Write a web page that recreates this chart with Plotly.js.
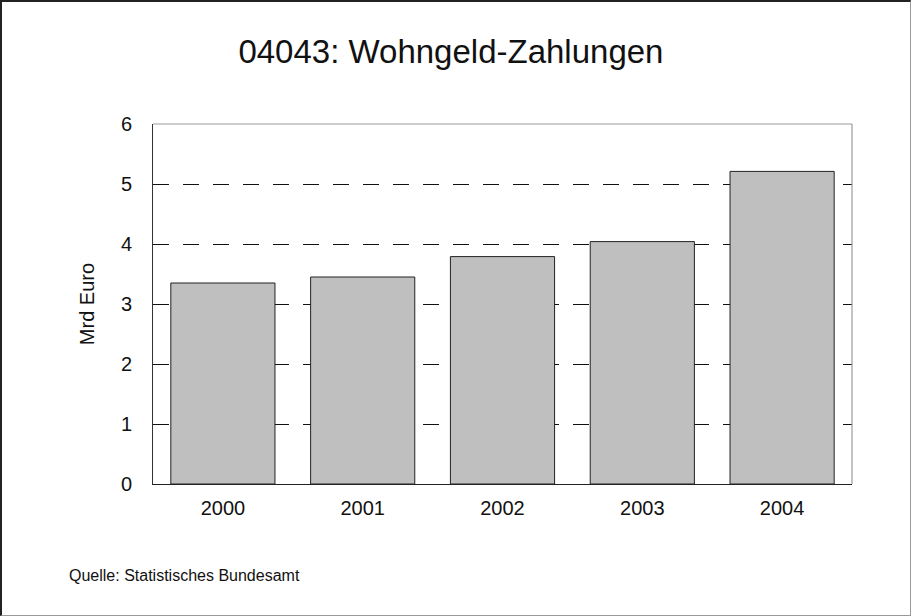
<!DOCTYPE html>
<html><head><meta charset="utf-8">
<script src="https://cdn.plot.ly/plotly-3.0.1.min.js"></script>
<style>
html,body{margin:0;padding:0;background:#fff;}
#frame{position:relative;width:911px;height:616px;box-sizing:border-box;border-left:2px solid #222;border-top:2px solid #222;border-right:1px solid #999;border-bottom:1px solid #999;overflow:hidden;}
#chart{position:absolute;left:-2px;top:-2px;width:911px;height:616px;}
</style></head>
<body><div id="frame"><div id="chart"></div></div>
<script>
const years = ['2000','2001','2002','2003','2004'];
const values = [3.35, 3.45, 3.79, 4.04, 5.21];
const yTicks = [0,1,2,3,4,5,6];
const titleText = '04043: Wohngeld-Zahlungen';
const yTitle = 'Mrd Euro';
const sourceText = 'Quelle: Statistisches Bundesamt';

const font = 'Liberation Sans, Arial, sans-serif';
Plotly.newPlot('chart', [{
  type:'bar', x: years, y: values,
  marker:{color:'#bfbfbf', line:{color:'#222', width:1}},
  hoverinfo:'none'
}], {
  width:911, height:616,
  margin:{l:153, r:59, t:124, b:132},
  paper_bgcolor:'rgba(0,0,0,0)', plot_bgcolor:'#fff',
  bargap:0.255,
  showlegend:false,
  title:{text:titleText, font:{family:font, size:33, color:'#111'}, x:0.495, xanchor:'center', y:0.916, yanchor:'middle'},
  xaxis:{type:'category', showgrid:false, showline:true, linecolor:'#222', linewidth:1,
    ticks:'', tickfont:{family:font, size:20, color:'#111'}, ticklabelstandoff:6, zeroline:false, fixedrange:true},
  yaxis:{range:[0,6], tickvals:yTicks, showgrid:true, gridcolor:'#111', gridwidth:1, griddash:'16px,14px',
    showline:true, linecolor:'#333', linewidth:1, ticks:'', zeroline:false,
    tickfont:{family:font, size:20, color:'#111'}, ticklabelstandoff:16,
    title:{text:yTitle, font:{family:font, size:20, color:'#111'}, standoff:20}, fixedrange:true},
  shapes:[
    {type:'line', xref:'paper', yref:'paper', x0:1, x1:1, y0:0, y1:1, line:{color:'#888', width:1}},
    {type:'line', xref:'paper', yref:'paper', x0:0, x1:1, y0:1, y1:1, line:{color:'#999', width:1}, layer:'below'}
  ],
  annotations:[
    {text:sourceText, xref:'paper', yref:'paper', x:-0.123, y:-0.253, xanchor:'left', yanchor:'middle', showarrow:false, font:{family:font, size:16, color:'#111'}}
  ]
}, {staticPlot:true, displayModeBar:false});
</script></body></html>
